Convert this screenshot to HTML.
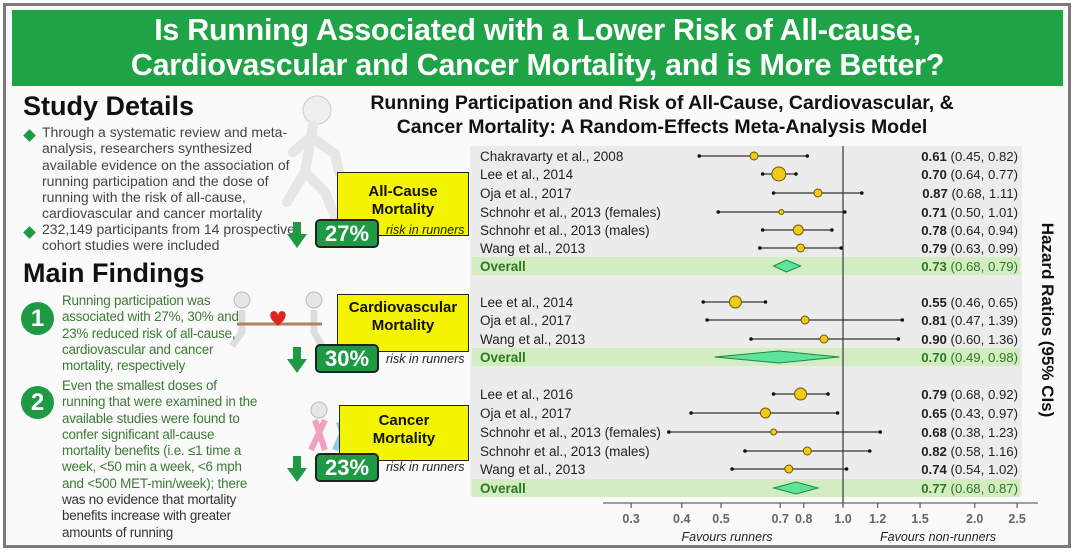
<!DOCTYPE html>
<html><head><meta charset="utf-8">
<style>
*{margin:0;padding:0;box-sizing:border-box}
body{width:1074px;height:557px;background:#fff;font-family:"Liberation Sans",sans-serif;position:relative;overflow:hidden}
.abs{position:absolute}
#frame{left:3px;top:3px;width:1068px;height:545px;border:3px solid #7a7a7a;background:#fafafa}
#header{left:12px;top:10px;width:1051px;height:76px;background:#1fa347;color:#fff;font-weight:bold;font-size:30.5px;line-height:35px;text-align:center;padding-top:3px;letter-spacing:-0.3px}
.h2{font-weight:bold;font-size:27px;color:#111;left:23px}
.bul{left:42px;font-size:14px;line-height:16.3px;color:#444;width:258px}
.dia{width:9px;height:9px;background:#1e9a45;transform:rotate(45deg);left:25px}
.num{width:33px;height:33px;border-radius:50%;background:#1e9a45;color:#fff;font-weight:bold;font-size:24px;text-align:center;line-height:33px;left:21px}
.find{left:62px;font-size:13.4px;line-height:16.3px;color:#3d7a36;width:200px;letter-spacing:-0.2px}
.ybox{background:#f4f400;border:1.5px solid #222;font-weight:bold;font-size:15px;text-align:center;line-height:18px;color:#111}
.badge{background:#1e9a45;border:2px solid #222;border-radius:5px;color:#fff;font-weight:bold;font-size:22px;text-align:center;line-height:25px}
.rr{font-style:italic;font-size:12.5px;color:#222}
.arrow{width:0;height:0;border-left:10px solid transparent;border-right:10px solid transparent;border-top:14px solid #1e9a45}
.astem{width:8px;height:12px;background:#1e9a45}
</style></head><body>
<div class="abs" id="frame"></div>
<div class="abs" id="header">Is Running Associated with a Lower Risk of All-cause,<br>Cardiovascular and Cancer Mortality, and is More Better?</div>

<svg class="abs" style="left:275px;top:92px" width="80" height="140">
<circle cx="42" cy="18" r="14" fill="#efefef" stroke="#ccc"/>
<path d="M38 34 L30 80 L12 110 M30 80 L50 100 L62 130 M36 45 L60 62 L64 80 M36 45 L18 60" stroke="#e6e6e6" stroke-width="10" fill="none" stroke-linecap="round"/>
</svg>
<svg class="abs" style="left:222px;top:290px" width="110" height="60">
<circle cx="20" cy="10" r="8" fill="#e6e6e6" stroke="#bbb"/><circle cx="92" cy="10" r="8" fill="#e6e6e6" stroke="#bbb"/>
<path d="M20 20 L20 42 L10 56 M92 20 L92 42 L100 56" stroke="#ddd" stroke-width="7" fill="none"/>
<line x1="15" y1="34" x2="100" y2="34" stroke="#b08060" stroke-width="3"/>
<path d="M50 30 C44 20 56 18 56 26 C56 18 68 20 62 30 L56 36 Z" fill="#d22"/>
</svg>
<svg class="abs" style="left:305px;top:400px" width="50" height="55">
<circle cx="14" cy="10" r="8" fill="#e6e6e6" stroke="#bbb"/>
<path d="M10 20 L20 50 M20 20 L6 50" stroke="#f0a0c0" stroke-width="6"/>
<path d="M34 22 L42 50 M42 22 L30 50" stroke="#8ccce8" stroke-width="6"/>
</svg>

<div class="abs h2" style="top:91px">Study Details</div>
<div class="abs dia" style="top:131px"></div>
<div class="abs bul" style="top:124px">Through a systematic review and meta-analysis, researchers synthesized available evidence on the association of running participation and the dose of running with the risk of all-cause, cardiovascular and cancer mortality</div>
<div class="abs dia" style="top:228px"></div>
<div class="abs bul" style="top:221px">232,149 participants from 14 prospective cohort studies were included</div>

<div class="abs h2" style="top:258px">Main Findings</div>
<div class="abs num" style="top:302px">1</div>
<div class="abs find" style="top:293px;width:185px">Running participation was associated with 27%, 30% and 23% reduced risk of all-cause, cardiovascular and cancer mortality, respectively</div>
<div class="abs num" style="top:386px">2</div>
<div class="abs find" style="top:378px">Even the smallest doses of running that were examined in the available studies were found to confer significant all-cause mortality benefits (i.e. ≤1 time a week, &lt;50 min a week, &lt;6 mph and &lt;500 MET-min/week); there <span style="color:#333">was no evidence that mortality benefits increase with greater amounts of running</span></div>

<div class="abs ybox" style="left:337px;top:172px;width:132px;height:64px;padding-top:10px">All-Cause<br>Mortality</div>
<div class="abs rr" style="left:386px;top:223px">risk in runners</div>
<div class="abs badge" style="left:315px;top:219px;width:64px;height:29px">27%</div>
<div class="abs astem" style="left:293px;top:222px"></div>
<div class="abs arrow" style="left:287px;top:234px"></div>

<div class="abs ybox" style="left:337px;top:294px;width:132px;height:58px;padding-top:4px">Cardiovascular<br>Mortality</div>
<div class="abs rr" style="left:386px;top:352px">risk in runners</div>
<div class="abs badge" style="left:315px;top:344px;width:64px;height:29px">30%</div>
<div class="abs astem" style="left:293px;top:347px"></div>
<div class="abs arrow" style="left:287px;top:359px"></div>

<div class="abs ybox" style="left:339px;top:405px;width:130px;height:56px;padding-top:6px">Cancer<br>Mortality</div>
<div class="abs rr" style="left:386px;top:460px">risk in runners</div>
<div class="abs badge" style="left:315px;top:453px;width:64px;height:29px">23%</div>
<div class="abs astem" style="left:293px;top:456px"></div>
<div class="abs arrow" style="left:287px;top:468px"></div>

<svg id="chart" class="abs" style="left:0;top:0" width="1074" height="557">
<text x="662" y="109" text-anchor="middle" font-weight="bold" font-size="19.5" fill="#111">Running Participation and Risk of All-Cause, Cardiovascular, &amp;</text>
<text x="662" y="133" text-anchor="middle" font-weight="bold" font-size="19.5" fill="#111">Cancer Mortality: A Random-Effects Meta-Analysis Model</text>
<text transform="translate(1042,320) rotate(90)" text-anchor="middle" font-weight="bold" font-size="17" fill="#111">Hazard Ratios (95% CIs)</text>
</svg>
<script>
const labels=["Chakravarty et al., 2008","Lee et al., 2014","Oja et al., 2017","Schnohr et al., 2013 (females)","Schnohr et al., 2013 (males)","Wang et al., 2013","Overall","Lee et al., 2014","Oja et al., 2017","Wang et al., 2013","Overall","Lee et al., 2016","Oja et al., 2017","Schnohr et al., 2013 (females)","Schnohr et al., 2013 (males)","Wang et al., 2013","Overall"];
const hr=[0.61,0.70,0.87,0.71,0.78,0.79,0.73,0.55,0.81,0.90,0.70,0.79,0.65,0.68,0.82,0.74,0.77];
const lower=[0.45,0.64,0.68,0.50,0.64,0.63,0.68,0.46,0.47,0.60,0.49,0.68,0.43,0.38,0.58,0.54,0.68];
const upper=[0.82,0.77,1.11,1.01,0.94,0.99,0.79,0.65,1.39,1.36,0.98,0.92,0.97,1.23,1.16,1.02,0.87];
const weights=[4,7,4,2.5,5,4,0,6,4,4,0,6,5,3,4,4,0];
const isOverall=[0,0,0,0,0,0,1,0,0,0,1,0,0,0,0,0,1];
const rowY=[156,174,193,212,230,248,266,302,320,339,357,394,413,432,451,469,488];
const ticks=[0.3,0.4,0.5,0.7,0.8,1.0,1.2,1.5,2.0,2.5];
const tickLabels=["0.3","0.4","0.5","0.7","0.8","1.0","1.2","1.5","2.0","2.5"];
const NS="http://www.w3.org/2000/svg";
const svg=document.getElementById('chart');
function x(v){return 843+180*Math.log(v);}
function xt(v){return 843+(v<1?176:190)*Math.log(v);}
function mk(t,a,p){const e=document.createElementNS(NS,t);for(const k in a)e.setAttribute(k,a[k]);(p||svg).appendChild(e);return e;}
const bg=mk('rect',{x:470,y:146,width:552,height:350,fill:'#ececec'});


svg.insertBefore(bg,svg.firstChild);
for(let i=0;i<labels.length;i++){
  const y=rowY[i];
  if(isOverall[i]){
    const b=mk('rect',{x:472,y:y-9,width:548,height:18,fill:'#d3ecc2'});
    
    
  }
}
const ref=mk('line',{x1:x(1),y1:146,x2:x(1),y2:506,stroke:'#444','stroke-width':1.3});


for(let i=0;i<labels.length;i++){
  const y=rowY[i];
  const lt=mk('text',{x:480,y:y+5,'font-size':13.5,fill:isOverall[i]?'#2a7a1e':'#222','font-weight':isOverall[i]?'bold':'normal'});
  lt.textContent=labels[i];
  
  
  const vt=mk('text',{x:1018,y:y+5,'font-size':13.2,'text-anchor':'end',fill:isOverall[i]?'#2a7a1e':'#222'});
  const ts=mk('tspan',{'font-weight':'bold'},vt);ts.textContent=hr[i].toFixed(2);
  const ts2=mk('tspan',{},vt);ts2.textContent=' ('+lower[i].toFixed(2)+', '+upper[i].toFixed(2)+')';
  
  
  if(isOverall[i]){
    const d=mk('polygon',{points:`${x(lower[i])},${y} ${x(hr[i])},${y-6} ${x(upper[i])},${y} ${x(hr[i])},${y+6}`,fill:'#5fe39a',stroke:'#1b8a45','stroke-width':1});
    
    
  } else {
    const l=mk('line',{x1:x(lower[i]),y1:y,x2:x(upper[i]),y2:y,stroke:'#333','stroke-width':1.3});
    
    
    const c1=mk('circle',{cx:x(lower[i]),cy:y,r:1.8,fill:'#111'});
    
    
    const c2=mk('circle',{cx:x(upper[i]),cy:y,r:1.8,fill:'#111'});
    
    
    const p=mk('circle',{cx:x(hr[i]),cy:y,r:weights[i],fill:'#f2c81a',stroke:'#6a5a00','stroke-width':1});
    
    
  }
}
const ax=mk('line',{x1:603,y1:503,x2:1038,y2:503,stroke:'#666','stroke-width':1.3});


for(let i=0;i<ticks.length;i++){
  const tx=xt(ticks[i]);
  const t=mk('line',{x1:tx,y1:503,x2:tx,y2:508,stroke:'#666','stroke-width':1.3});
  
  
  const tl=mk('text',{x:tx,y:523,'text-anchor':'middle','font-size':12.5,fill:'#666','font-weight':'bold'});
  tl.textContent=tickLabels[i];
  
  
}
const f1=mk('text',{x:727,y:541,'text-anchor':'middle','font-size':12.5,'font-style':'italic',fill:'#222'});
f1.textContent='Favours runners';


const f2=mk('text',{x:938,y:541,'text-anchor':'middle','font-size':12.5,'font-style':'italic',fill:'#222'});
f2.textContent='Favours non-runners';


</script>
</body></html>
